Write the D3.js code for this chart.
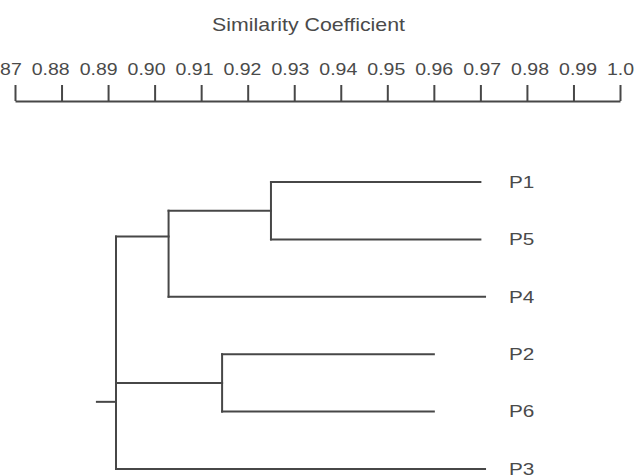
<!DOCTYPE html>
<html>
<head>
<meta charset="utf-8">
<script src="https://cdn.jsdelivr.net/npm/d3@7"></script>
<style>
  html, body { margin: 0; padding: 0; background: #ffffff; }
  svg { display: block; }
  text { font-family: "Liberation Sans", Arial, Helvetica, sans-serif; fill: #4a4a4a; }
</style>
</head>
<body>
<svg id="chart" width="634" height="476"></svg>
<script>
// ---- data ----
const axisTitle = "Similarity Coefficient";
const tickValues = [0.87, 0.88, 0.89, 0.90, 0.91, 0.92, 0.93, 0.94, 0.95, 0.96, 0.97, 0.98, 0.99, 1.00];
const tickLabels = ["0.87", "0.88", "0.89", "0.90", "0.91", "0.92", "0.93", "0.94", "0.95", "0.96", "0.97", "0.98", "0.99", "1.00"];
const leaves = ["P1", "P5", "P4", "P2", "P6", "P3"];
const leafEnd = [0.970, 0.970, 0.971, 0.960, 0.960, 0.971];
const mergeIds = ["A1", "A", "B", "root"];
const mergeChildren = [["P1", "P5"], ["A1", "P4"], ["P2", "P6"], ["A", "B", "P3"]];
const mergeSim = [0.925, 0.903, 0.9145, 0.8917];
const rootStart = 0.8876;

// ---- layout ----
const svg = d3.select("#chart");
const x = d3.scaleLinear().domain([0.87, 1.00]).range([15, 620]);
const xLabel = d3.scaleLinear().domain([0.88, 0.99]).range([50.7, 578]);
const y = d3.scalePoint().domain(leaves).range([182, 469]);
const step = y.step();
// attachment rows (in leaf-row units) for nodes not drawn at the midpoint
const anchorRow = { A: 0.95, root: 3.83 };
const stroke = "#474747";
const sx = 1.22;

// title
svg.append("text")
  .attr("transform", `translate(308.5,31) scale(${sx},1)`)
  .attr("text-anchor", "middle")
  .style("font-size", "17.5px")
  .text(axisTitle);

// axis
const axisY = 101;
const axisG = svg.append("g").attr("transform", `translate(0,${axisY})`);
const axis = d3.axisTop(x).tickValues(tickValues).tickSize(16).tickSizeOuter(0).tickFormat("");
axisG.call(axis);
axisG.select(".domain").attr("stroke", stroke).attr("stroke-width", 2);
axisG.selectAll(".tick line").attr("stroke", stroke).attr("stroke-width", 2);

svg.append("g").selectAll("text.tl")
  .data(tickValues)
  .join("text")
  .attr("class", "tl")
  .attr("transform", d => `translate(${xLabel(d)},75) scale(${sx},1)`)
  .attr("text-anchor", "middle")
  .style("font-size", "16px")
  .text((d, i) => tickLabels[i]);

// tree
const nodes = {};
leaves.forEach((l, i) => { nodes[l] = { id: l, sim: leafEnd[i], y: y(l), leaf: true }; });
mergeIds.forEach((id, i) => {
  const ch = mergeChildren[i].map(c => nodes[c]);
  const yy = anchorRow[id] !== undefined ? y(leaves[0]) + anchorRow[id] * step : d3.mean(ch, c => c.y);
  nodes[id] = { id, sim: mergeSim[i], y: yy, children: ch };
});

const g = svg.append("g")
  .attr("fill", "none")
  .attr("stroke", stroke)
  .attr("stroke-width", 2)
  .attr("stroke-linecap", "square");

mergeIds.forEach(id => {
  const n = nodes[id];
  const ys = n.children.map(c => c.y);
  g.append("line")
    .attr("x1", x(n.sim)).attr("x2", x(n.sim))
    .attr("y1", d3.min(ys)).attr("y2", d3.max(ys));
  n.children.forEach(c => {
    g.append("line")
      .attr("x1", x(n.sim)).attr("x2", x(c.sim))
      .attr("y1", c.y).attr("y2", c.y);
  });
});
// root stub
g.append("line")
  .attr("x1", x(rootStart)).attr("x2", x(nodes.root.sim))
  .attr("y1", nodes.root.y).attr("y2", nodes.root.y);

// leaf labels
svg.append("g").selectAll("text.leaf")
  .data(leaves)
  .join("text")
  .attr("class", "leaf")
  .attr("transform", d => `translate(509,${y(d)}) scale(${sx},1)`)
  .attr("dominant-baseline", "central")
  .style("font-size", "17px")
  .text(d => d);
</script>
</body>
</html>
